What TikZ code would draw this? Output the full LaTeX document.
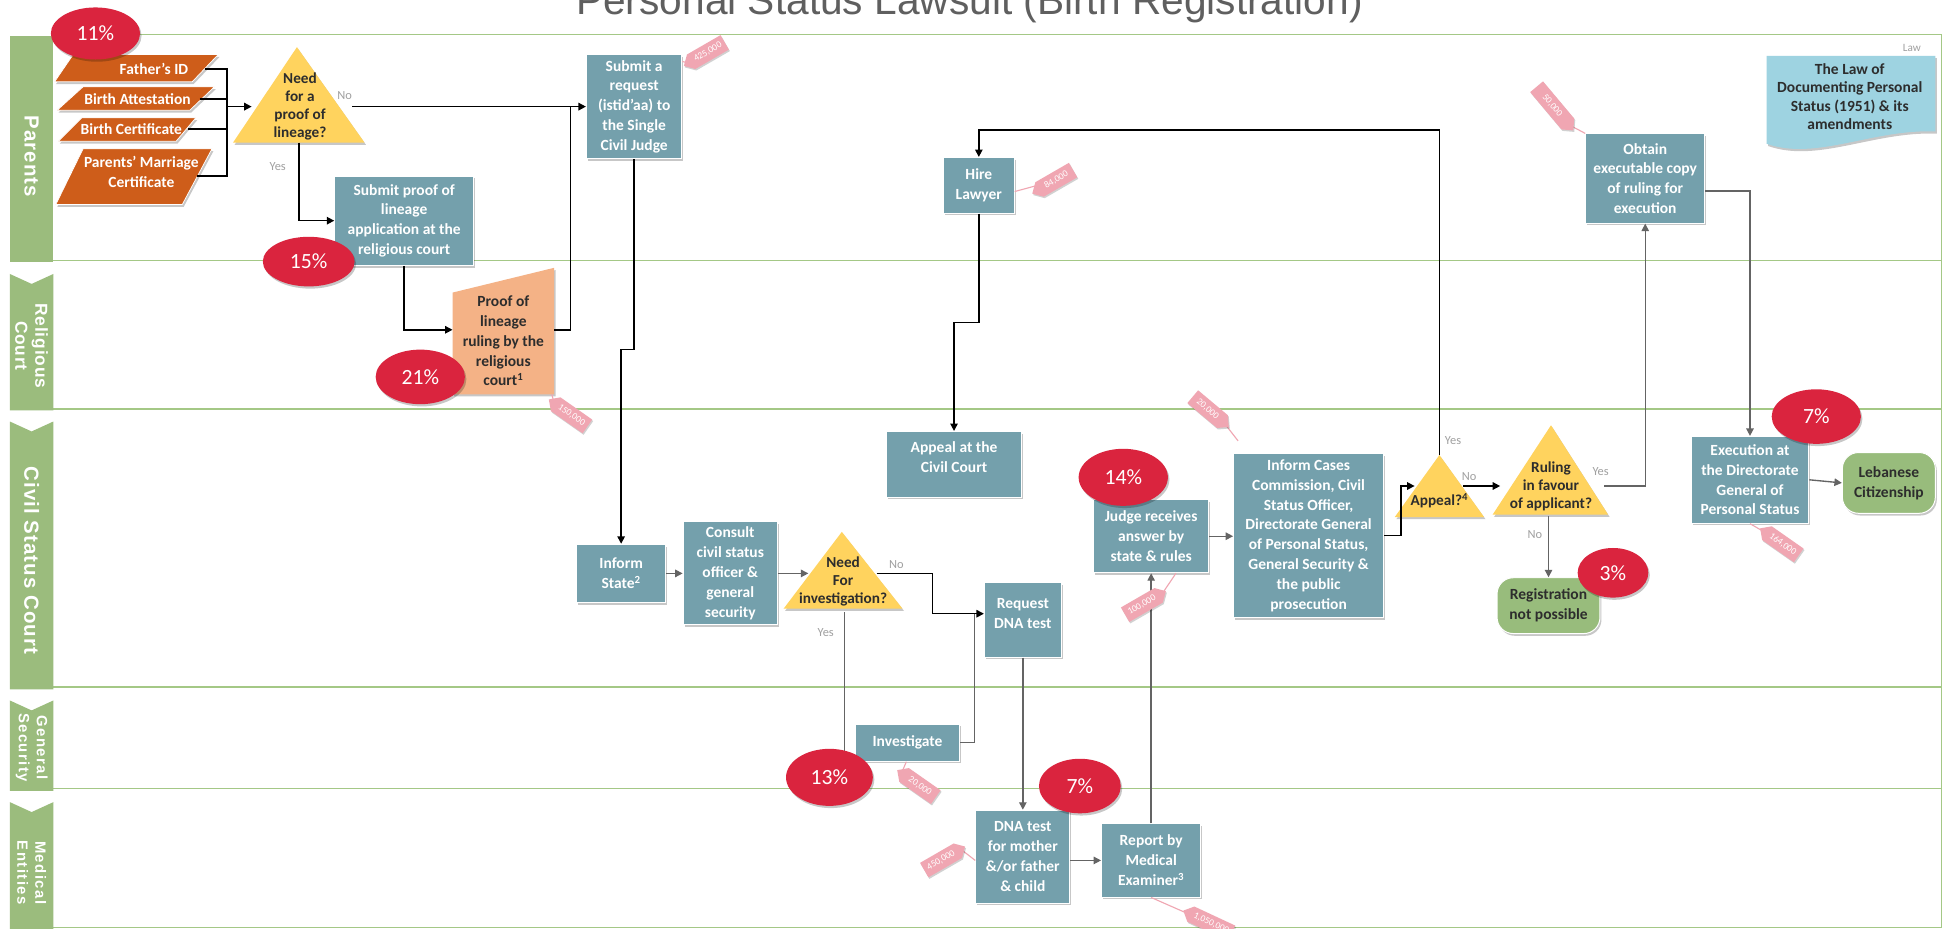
\documentclass[tikz,border=0pt]{standalone}
\usepackage{fontspec}
\setmainfont{Carlito}
\newfontfamily\arialf{Liberation Sans}
\newfontfamily\laneA[LetterSpace=5]{Liberation Sans}
\newfontfamily\laneB[LetterSpace=10]{Liberation Sans}
\usetikzlibrary{shapes.geometric,shapes.symbols,arrows.meta,shadows,calc}
\definecolor{teal1}{RGB}{116,160,172}
\definecolor{orng}{RGB}{206,93,26}
\definecolor{yel}{RGB}{255,211,94}
\definecolor{redc}{RGB}{218,36,62}
\definecolor{salm}{RGB}{244,178,134}
\definecolor{grn}{RGB}{152,188,124}
\definecolor{pinkc}{RGB}{240,166,178}
\definecolor{lawb}{RGB}{158,211,225}
\definecolor{lanelc}{RGB}{164,200,134}
\definecolor{laneb}{RGB}{155,188,125}
\definecolor{garr}{RGB}{100,100,100}
\definecolor{ynt}{RGB}{160,160,160}
\definecolor{dtxt}{RGB}{45,45,45}
\definecolor{titlec}{RGB}{95,95,95}
\begin{document}
\begin{tikzpicture}[x=1pt,y=-1pt,
  shad/.style={drop shadow={shadow xshift=1.2pt,shadow yshift=-1.8pt,opacity=0.22,fill=black}},
  sz/.style 2 args={minimum width=#1pt,minimum height=#2pt},
  box/.style={rectangle,fill=teal1,draw=white,line width=0.8pt,text=white,
    font=\bfseries\fontsize{12.5}{16}\selectfont,align=center,inner sep=0pt,shad},
  rbox/.style={rectangle,rounded corners=13pt,fill=grn,draw=white,line width=0.8pt,text=dtxt,
    font=\bfseries\fontsize{12.5}{16}\selectfont,align=center,inner sep=0pt,shad},
  ptxt/.style={text=white,font=\bfseries\fontsize{12.5}{16}\selectfont,align=center,inner sep=0pt},
  qtxt/.style={text=dtxt,font=\bfseries\fontsize{12.3}{14.4}\selectfont,align=center,inner sep=0pt},
  pct/.style={ellipse,fill=redc,text=white,font=\fontsize{17.5}{20}\selectfont,inner sep=0pt,shad},
  tagb/.style={signal,fill=pinkc,text=white,font=\fontsize{7.5}{8}\selectfont,inner xsep=3pt,
    inner ysep=2pt,minimum height=13.5pt,minimum width=38pt,
    drop shadow={shadow xshift=0.8pt,shadow yshift=-1.2pt,opacity=0.18,fill=black}},
  yn/.style={text=ynt,font=\fontsize{10}{12}\selectfont,inner sep=0pt},
  blk/.style={draw=black,line width=1.2pt,-{Triangle[length=6pt,width=6pt]}},
  blkl/.style={draw=black,line width=1.2pt},
  gry/.style={draw=garr,line width=1.1pt,-{Triangle[length=6pt,width=6pt]}},
  gryl/.style={draw=garr,line width=1.1pt},
  tagl/.style={draw=pinkc,line width=0.9pt},
  laneline/.style={draw=lanelc,line width=1.2pt},
  lanetxt/.style={text=white,rotate=-90,align=center,inner sep=0pt}
]
\useasboundingbox (0,0) rectangle (1568,749.3);
\fill[white] (0,0) rectangle (1568,749.3);

% ---------- title ----------
\node[anchor=base,text=titlec,font=\arialf\fontsize{32.8}{36}\selectfont,inner sep=0pt] (title) at (782,12)
  {Personal Status Lawsuit (Birth Registration)};

% ---------- lanes ----------
\draw[laneline] (43,28) -- (1566,28) -- (1566,748) -- (43,748);
\draw[laneline] (43,210) -- (1566,210);
\draw[laneline] (43,330) -- (1566,330);
\draw[laneline] (43,554) -- (1566,554);
\draw[laneline] (43,636) -- (1566,636);

\fill[laneb] (8,29) rectangle (43,211);
\fill[laneb] (8,221) -- (25.5,229) -- (43,221) -- (43,331) -- (8,331) -- cycle;
\fill[laneb] (8,340) -- (25.5,348) -- (43,340) -- (43,556) -- (8,556) -- cycle;
\fill[laneb] (8,565) -- (25.5,573) -- (43,565) -- (43,638) -- (8,638) -- cycle;
\fill[laneb] (8,647) -- (25.5,655) -- (43,647) -- (43,749.3) -- (8,749.3) -- cycle;

\node[lanetxt,font=\laneA\bfseries\fontsize{16.5}{18}\selectfont] (lanepar) at (25.5,126) {Parents};
\node[lanetxt,font=\laneA\bfseries\fontsize{14}{16}\selectfont] (lanerel) at (25.5,279) {Religious\\Court};
\node[lanetxt,font=\laneA\bfseries\fontsize{16.5}{18}\selectfont] (laneciv) at (25.5,452) {Civil Status Court};
\node[lanetxt,font=\laneB\bfseries\fontsize{12}{14.5}\selectfont] (lanegen) at (25.5,603) {General\\Security};
\node[lanetxt,font=\laneB\bfseries\fontsize{12}{14.5}\selectfont] (lanemed) at (25.5,704) {Medical\\Entities};

% ---------- law document ----------
\path[fill=lawb,shad] (1425,45) -- (1561,45) -- (1561,106) .. controls (1510,104) and (1465,130) .. (1425,116) -- cycle;
\node[text=dtxt,font=\bfseries\fontsize{12.5}{14.8}\selectfont,align=center,inner sep=0pt] (law) at (1492,78)
  {The Law of\\Documenting Personal\\Status (1951) \& its\\amendments};
\node[text=ynt,font=\fontsize{9}{10}\selectfont,inner sep=0pt] (lawlbl) at (1542,39) {Law};

% ---------- documents (parallelograms) ----------
\path[fill=orng,draw=white,line width=0.6pt,shad] (44,66) -- (59,44) -- (176,44) -- (155,66) -- cycle;
\node[ptxt,anchor=east] (fid) at (152,55.5) {Father’s ID};
\path[fill=orng,draw=white,line width=0.6pt,shad] (46,89) -- (67,70) -- (173,70) -- (153,89) -- cycle;
\node[ptxt,anchor=east] (ba) at (154,80) {Birth Attestation};
\path[fill=orng,draw=white,line width=0.6pt,shad] (47,114) -- (66,95) -- (158,95) -- (142,114) -- cycle;
\node[ptxt,anchor=east] (bc) at (147,104) {Birth Certificate};
\path[fill=orng,draw=white,line width=0.6pt,shad] (45,165) -- (67,120) -- (171,120) -- (147,165) -- cycle;
\node[ptxt] (pm) at (114,139) {Parents’ Marriage\\Certificate};
\coordinate (fidE) at (165,55.5);
\coordinate (baE) at (161,80);
\coordinate (bcE) at (152,104);
\coordinate (pmE) at (159,142);
\coordinate (busT) at (183,55.5);
\coordinate (busB) at (183,142);
\coordinate (busM) at (183,86);

% ---------- decisions ----------
\path[fill=yel,shad] (239.5,38) -- (294,115) -- (188,115) -- cycle;
\node[qtxt] (q1) at (242,86) {Need\\for a\\proof of\\lineage?};
\coordinate (q1in) at (203,86);
\coordinate (q1out) at (284,86);
\coordinate (q1bot) at (241,115);

\path[fill=yel,shad] (679,429) -- (728,491) -- (632,491) -- cycle;
\node[qtxt] (q2) at (680,469) {Need\\For\\investigation?};
\coordinate (q2in) at (652,462.5);
\coordinate (q2out) at (707,462.5);
\coordinate (q2bot) at (681,494);
\coordinate (q2no) at (752,495);
\coordinate (q2yend) at (681,612);

\path[fill=yel,shad] (1161,367) -- (1197,417) -- (1125,417) -- cycle;
\node[qtxt] (q3) at (1161,404) {Appeal?\textsuperscript{4}};
\coordinate (q3in) at (1141,392);
\coordinate (q3out) at (1180,392);
\coordinate (q3top) at (1161,367);
\coordinate (q3jog) at (1130,392);

\path[fill=yel,shad] (1251,343) -- (1297,415) -- (1204,415) -- cycle;
\node[qtxt] (q4) at (1251,392) {Ruling\\in favour\\of applicant?};
\coordinate (q4in) at (1210,392);
\coordinate (q4out) at (1294,392);
\coordinate (q4bot) at (1249,416);

% ---------- process boxes ----------
\node[box,sz={112}{72}] (subproof) at (326,178) {Submit proof of\\lineage\\application at the\\religious court};
\node[box,sz={77}{84}] (subreq) at (511.5,86) {Submit a\\request\\(istid’aa) to\\the Single\\Civil Judge};
\node[box,sz={57}{45}] (hire) at (789.5,149.5) {Hire\\Lawyer};
\node[box,sz={109}{53}] (appeal) at (769.5,374.5) {Appeal at the\\Civil Court\\[-4pt]\mbox{}};
\node[box,sz={72}{47}] (inform) at (501,462.5) {Inform\\State\textsuperscript{2}};
\node[box,sz={76}{83}] (consult) at (589,462.5) {Consult\\civil status\\officer \&\\general\\security};
\node[box,sz={62}{60}] (reqdna) at (825,500) {Request\\DNA test\\[-6pt]\mbox{}};
\node[box,sz={84}{30}] (invest) at (732,599) {Investigate};
\node[box,sz={76}{75}] (dna) at (825,691) {DNA test\\for mother\\\&/or father\\\& child};
\node[box,sz={80}{59}] (report) at (928.5,694) {Report by\\Medical\\Examiner\textsuperscript{3}};
\node[box,sz={93}{59}] (judge) at (928.5,432.5) {Judge receives\\answer by\\state \& rules};
\node[box,sz={121}{132}] (cases) at (1055.5,432) {Inform Cases\\Commission, Civil\\Status Officer,\\Directorate General\\of Personal Status,\\General Security \&\\the public\\prosecution};
\node[box,sz={96}{72}] (obtain) at (1327,144) {Obtain\\executable copy\\of ruling for\\execution};
\node[box,sz={95}{70}] (exec) at (1411.5,387) {Execution at\\the Directorate\\General of\\Personal Status};
\node[rbox,sz={83}{45}] (regnp) at (1249,488.5) {Registration\\not possible};
\node[rbox,sz={75}{49}] (citizen) at (1523.5,389.5) {Lebanese\\Citizenship};

% proof of lineage ruling (manual input shape)
\path[fill=salm,shad] (365,236) -- (447,216) -- (447,318) -- (365,318) -- cycle;
\node[qtxt,font=\bfseries\fontsize{12.5}{16}\selectfont] (proof) at (406,275) {Proof of\\lineage\\ruling by the\\religious\\court\textsuperscript{1}};
\coordinate (proofin) at (365,266);
\coordinate (proofout) at (447,266);
\coordinate (proofcorner) at (445,318);
\coordinate (jn1) at (460,86);
\coordinate (jog1) at (501,282);
\coordinate (jn2) at (786,495);
\coordinate (loopc) at (789.5,105);
\coordinate (jog2) at (769.5,260);

% ---------- yes / no labels ----------
\node[yn] (n1) at (278,77) {No};
\node[yn] (y1) at (224,134) {Yes};
\node[yn] (n2) at (723,455) {No};
\node[yn] (y2) at (666,510) {Yes};
\node[yn] (y3) at (1172,355) {Yes};
\node[yn] (n3) at (1185,384) {No};
\node[yn] (y4) at (1291,380) {Yes};
\node[yn] (n4) at (1238,431) {No};

% ---------- connectors ----------
\draw[blkl] (fidE) -- (busT) -- (busB) -- (pmE);
\draw[blkl] (baE) -- (baE -| busT);
\draw[blkl] (bcE) -- (bcE -| busT);
\draw[blk] (busM) -- (q1in);
\draw[blk] (q1out) -- (subreq.west);
\draw[blk] (q1bot) |- (subproof.west);
\draw[blk] (subproof.south) |- (proofin);
\draw[blkl] (proofout) -| (jn1);
\draw[blk] (subreq.south) |- (jog1) -- (inform.north);
\draw[gry] (inform.east) -- (consult.west);
\draw[gry] (consult.east) -- (q2in);
\draw[blk] (q2out) -| (q2no) -- (q2no -| reqdna.west);
\draw[gryl] (q2bot) -- (q2yend);
\draw[gryl] (invest.east) -| (jn2);
\draw[gry] (reqdna.south) -- (dna.north);
\draw[gry] (report.west -| dna.east) -- (report.west);
\draw[gry] (report.north) -- (judge.south);
\draw[gry] (judge.east) -- (judge.east -| cases.west);
\draw[blk] (cases.east) -| (q3jog) -- (q3in);
\draw[blk] (q3out) -- (q4in);
\draw[blk] (q3top) |- (loopc) -- (hire.north);
\draw[blk] (hire.south) |- (jog2) -- (appeal.north);
\draw[gry] (q4bot) -- (q4bot |- regnp.north);
\draw[gry] (q4out) -| (obtain.south);
\draw[gry] ([yshift=-10pt]obtain.east) -| (exec.north);
\draw[gry] (exec.east) -- (citizen.west);

% ---------- price tags ----------
\draw[tagl] ([yshift=-6pt]subreq.north east) -- (556,51);
\draw[tagl] ([yshift=-5pt]hire.east) -- (835,150);
\draw[tagl] (obtain.north west) -- (1268,102);
\draw[tagl] (proofcorner) -- (447,325);
\draw[tagl] (988,342) -- ([xshift=4pt,yshift=10pt]cases.north west);
\draw[tagl] (938,478) -- ([xshift=20pt]judge.south);
\draw[tagl] ([xshift=-1pt]invest.south) -- (727,624);
\draw[tagl] (775,685) -- ([yshift=-3pt]dna.west);
\draw[tagl] (report.south) -- (956,736);
\draw[tagl] (exec.south) -- (1423,429);
\node[tagb,signal to=west,rotate=30] (t425) at (571,42) {425,000};
\node[tagb,signal to=west,rotate=30] (t84) at (852,145) {84,000};
\node[tagb,signal to=east,rotate=-50,minimum width=46pt] (t50) at (1252,85) {50,000};
\node[tagb,signal to=west,rotate=-35] (t150) at (461,335) {150,000};
\node[tagb,signal to=east,rotate=-40] (t20a) at (974,330) {20,000};
\node[tagb,signal to=east,rotate=30] (t100) at (921,488) {100,000};
\node[tagb,signal to=west,rotate=-35] (t20b) at (742,634) {20,000};
\node[tagb,signal to=east,rotate=30] (t450) at (759,694) {450,000};
\node[tagb,signal to=west,rotate=-25] (t1050) at (977,745) {1,050,000};
\node[tagb,signal to=west,rotate=-35] (t164) at (1438,439) {164,000};

% ---------- percentages ----------
\node[pct,sz={72}{42}] (p11) at (77,27) {11\%};
\node[pct,sz={74}{40}] (p15) at (249,211) {15\%};
\node[pct,sz={72}{44}] (p21) at (339,304) {21\%};
\node[pct,sz={72}{46}] (p14) at (906,385) {14\%};
\node[pct,sz={70}{46}] (p13) at (669,627) {13\%};
\node[pct,sz={66}{44}] (p7b) at (871,634) {7\%};
\node[pct,sz={57}{40}] (p3) at (1301,462) {3\%};
\node[pct,sz={72}{44}] (p7a) at (1465,336) {7\%};
\end{tikzpicture}
\end{document}
